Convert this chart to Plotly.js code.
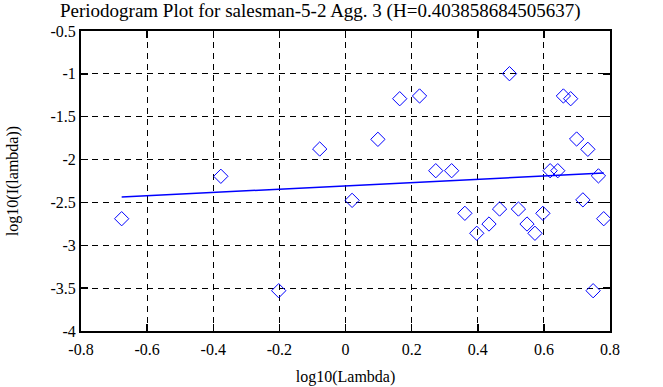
<!DOCTYPE html>
<html>
<head>
<meta charset="utf-8">
<script src="https://cdn.plot.ly/plotly-3.0.1.min.js"></script>
<style>html,body{margin:0;padding:0;background:#fff;}#chart{width:663px;height:387px;}</style>
</head>
<body>
<div id="chart"></div>
<script>
const logLambda = [-0.677, -0.377, -0.202, -0.078, 0.020, 0.098, 0.164, 0.224, 0.273, 0.321,
  0.361, 0.397, 0.434, 0.466, 0.496, 0.523, 0.549, 0.573, 0.597, 0.619,
  0.642, 0.659, 0.681, 0.699, 0.718, 0.733, 0.749, 0.765, 0.781];
const logI = [-2.69, -2.195, -3.53, -1.877, -2.476, -1.764, -1.29, -1.258, -2.13, -2.13,
  -2.627, -2.86, -2.752, -2.577, -0.998, -2.577, -2.752, -2.86, -2.627, -2.13,
  -2.13, -1.258, -1.29, -1.76, -2.47, -1.88, -3.53, -2.19, -2.69];
const fitX = [-0.677, 0.781];
const fitY = [-2.437, -2.157];
const xTicks = [-0.8, -0.6, -0.4, -0.2, 0, 0.2, 0.4, 0.6, 0.8];
const yTicks = [-4, -3.5, -3, -2.5, -2, -1.5, -1, -0.5];

const fam = 'Liberation Serif';
const font = {family: fam, size: 16, color: '#000'};
const axisCommon = {
  showline: true, linecolor: '#000', linewidth: 2, mirror: 'ticks',
  ticks: 'inside', ticklen: 7, tickwidth: 1.5, tickcolor: '#000',
  showgrid: true, gridcolor: '#000', gridwidth: 1, griddash: '6px,5px',
  zeroline: false, tickfont: font
};
const data = [
  {x: logLambda, y: logI, type: 'scatter', mode: 'markers',
   marker: {symbol: 'diamond-open', size: 11, color: '#0000ff', line: {width: 1, color: '#0000ff'}},
   showlegend: false},
  {x: fitX, y: fitY, type: 'scatter', mode: 'lines',
   line: {color: '#0000ff', width: 1.5}, showlegend: false}
];
const layout = {
  width: 663, height: 387,
  margin: {l: 81, r: 53, t: 31, b: 56},
  paper_bgcolor: '#fff', plot_bgcolor: '#fff',
  font: font,
  title: {text: 'Periodogram Plot for salesman-5-2 Agg. 3 (H=0.403858684505637)',
          font: {family: fam, size: 19, color: '#000'}, x: 0.483, xanchor: 'center', y: 0.972, yanchor: 'middle'},
  xaxis: Object.assign({}, axisCommon, {range: [-0.8, 0.8], tickvals: xTicks,
          ticktext: xTicks.map(String), ticklabelstandoff: 3,
          title: {text: 'log10(Lambda)', font: font, standoff: 14}}),
  yaxis: Object.assign({}, axisCommon, {range: [-4, -0.5], tickvals: yTicks,
          ticktext: yTicks.map(String),
          title: {text: 'log10(I(lambda))', font: font, standoff: 28}})
};
Plotly.newPlot('chart', data, layout, {staticPlot: true, displayModeBar: false});
</script>
</body>
</html>
